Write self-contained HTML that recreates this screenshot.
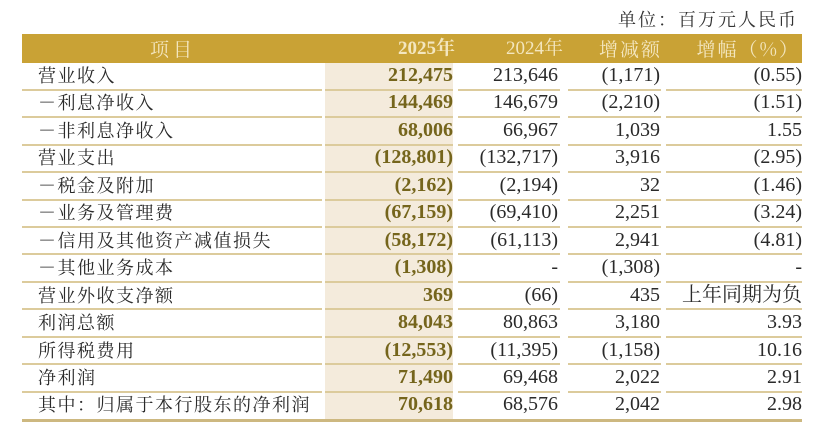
<!DOCTYPE html>
<html><head><meta charset="utf-8"><style>
body{margin:0;width:830px;height:448px;background:#fff;overflow:hidden;position:relative;font-family:"Liberation Serif","Noto Serif CJK SC",serif;color:#2a2a2a}
.a{position:absolute}
.hd{left:22px;top:34px;width:780px;height:29px;background:#c9a235}
.sh{left:325px;top:63px;width:128px;height:357px;background:#f4ebdc}
.row{position:absolute;left:0;width:830px;height:27px;font-size:20px;line-height:27px}
.row span{position:absolute;white-space:nowrap}
.l{left:38px;font-size:18px;letter-spacing:1.5px}
.c1{right:377px;font-weight:bold;color:#75651c}
.c2{right:272px}
.c3{right:170px}
.c4{right:28px}
.ln{position:absolute;height:2px;background:#dccb9c}
.ht{position:absolute;top:34px;height:29px;line-height:29px;font-size:19px;color:#f3e6bf}
</style></head><body>
<div class="a" style="right:32px;top:6px;font-size:18px;letter-spacing:2px;color:#333;font-family:'Noto Serif CJK SC',serif">单位：百万元人民币</div>
<div class="a hd"></div>
<div class="a sh"></div>
<div class="ht" style="left:150px;letter-spacing:4px;font-family:'Noto Serif CJK SC',serif">项目</div>
<div class="ht" style="right:375px;font-weight:bold">2025年</div>
<div class="ht" style="right:267px">2024年</div>
<div class="ht" style="right:168px;letter-spacing:2px;font-family:'Noto Serif CJK SC',serif">增减额</div>
<div class="ht" style="right:30px;letter-spacing:2px;font-family:'Noto Serif CJK SC',serif">增幅（%）</div>
<div id="t"></div>
<script>
var d=[["营业收入","212,475","213,646","(1,171)","(0.55)"],["－利息净收入","144,469","146,679","(2,210)","(1.51)"],["－非利息净收入","68,006","66,967","1,039","1.55"],["营业支出","(128,801)","(132,717)","3,916","(2.95)"],["－税金及附加","(2,162)","(2,194)","32","(1.46)"],["－业务及管理费","(67,159)","(69,410)","2,251","(3.24)"],["－信用及其他资产减值损失","(58,172)","(61,113)","2,941","(4.81)"],["－其他业务成本","(1,308)","-","(1,308)","-"],["营业外收支净额","369","(66)","435","上年同期为负"],["利润总额","84,043","80,863","3,180","3.93"],["所得税费用","(12,553)","(11,395)","(1,158)","10.16"],["净利润","71,490","69,468","2,022","2.91"],["其中：归属于本行股东的净利润","70,618","68,576","2,042","2.98"]];
var h="";
d.forEach(function(r,i){var y=62+i*27.45;
h+='<div class="row" style="top:'+y+'px"><span class="l" style="font-family:\'Noto Serif CJK SC\',serif">'+r[0]+'</span><span class="c1">'+r[1]+'</span><span class="c2">'+r[2]+'</span><span class="c3">'+r[3]+'</span><span class="c4"'+(r[4].length>6?' style="font-family:\'Noto Serif CJK SC\',serif;font-size:18px"':'')+'>'+r[4]+'</span></div>';
var ly=63+i*27.45+25.7;
if(i<12){h+='<div class="ln" style="left:22px;width:300px;top:'+ly+'px"></div><div class="ln" style="left:325px;width:128px;top:'+ly+'px"></div><div class="ln" style="left:458px;width:102px;top:'+ly+'px"></div><div class="ln" style="left:568px;width:93px;top:'+ly+'px"></div><div class="ln" style="left:666px;width:136px;top:'+ly+'px"></div>';}
});
h+='<div class="ln" style="left:22px;width:780px;top:419px;height:3px;background:#cdb880"></div>';
document.getElementById("t").innerHTML=h;
</script>
</body></html>
